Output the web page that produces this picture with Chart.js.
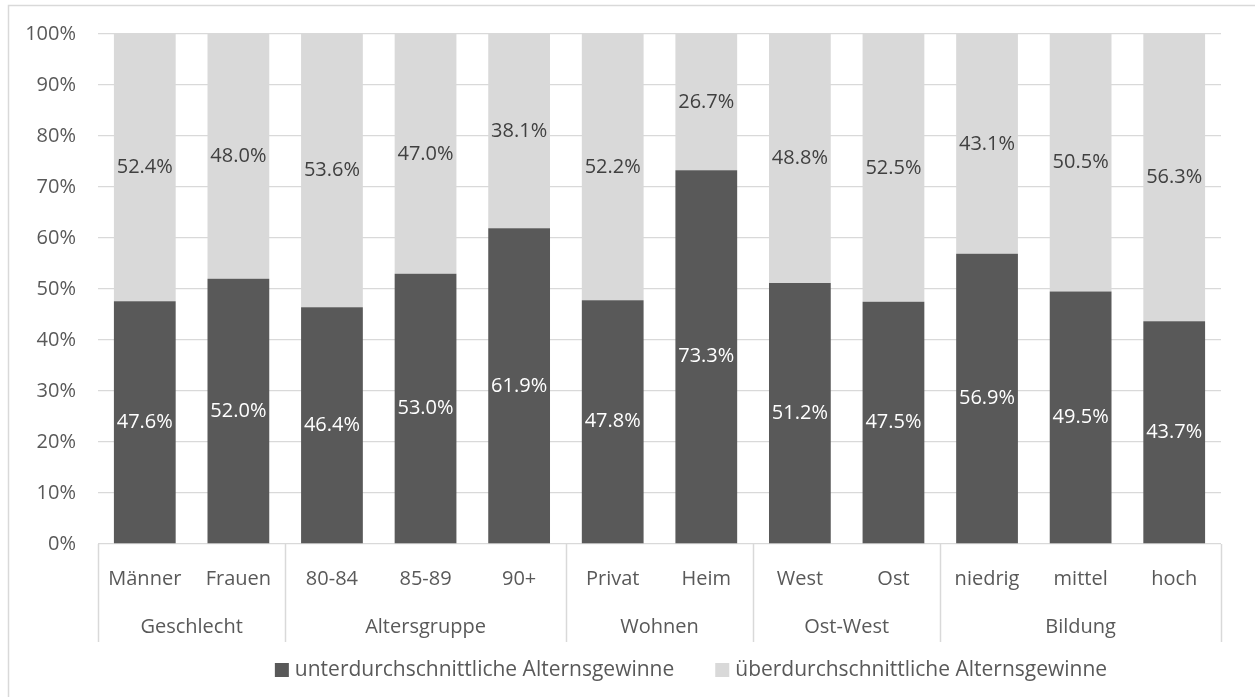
<!DOCTYPE html>
<html>
<head>
<meta charset="utf-8">
<script src="https://cdn.jsdelivr.net/npm/chart.js@4"></script>
<style>
  html, body { margin: 0; padding: 0; background: #fff; }
  #wrap { position: relative; width: 1255px; height: 697px; }
</style>
</head>
<body>
<div id="wrap"><canvas id="chart"></canvas></div>
<script>
// Chart data
const categories = ['Männer', 'Frauen', '80-84', '85-89', '90+', 'Privat', 'Heim', 'West', 'Ost', 'niedrig', 'mittel', 'hoch'];
const groups = ['Geschlecht', 'Altersgruppe', 'Wohnen', 'Ost-West', 'Bildung'];
const groupSizes = [2, 3, 2, 2, 3];
const seriesNames = ['unterdurchschnittliche Alternsgewinne', 'überdurchschnittliche Alternsgewinne'];
const unterValues = [47.6, 52.0, 46.4, 53.0, 61.9, 47.8, 73.3, 51.2, 47.5, 56.9, 49.5, 43.7];
const ueberValues = [52.4, 48.0, 53.6, 47.0, 38.1, 52.2, 26.7, 48.8, 52.5, 43.1, 50.5, 56.3];
const yTicks = [0, 10, 20, 30, 40, 50, 60, 70, 80, 90, 100];

const FONT = "'Open Sans', sans-serif";
const FONT_SIZE = 20;
const axisColor = '#595959';
const lineColor = '#d9d9d9';

// outer frame
const framePlugin = {
    id: 'frame',
    beforeDraw(chart) {
        const ctx = chart.ctx;
        ctx.save();
        ctx.strokeStyle = lineColor;
        ctx.lineWidth = 1.5;
        ctx.strokeRect(8.5, 5.5, chart.width, chart.height);
        ctx.restore();
    }
};

// group labels and separators under the category labels
const groupAxisPlugin = {
    id: 'groupAxis',
    afterDraw(chart) {
        const ctx = chart.ctx;
        const x = chart.scales.x;
        const area = chart.chartArea;
        const bottom = area.bottom + 98;
        const edge = i => {
            if (i <= 0) return area.left;
            if (i >= categories.length) return area.right;
            return (x.getPixelForValue(i - 1) + x.getPixelForValue(i)) / 2;
        };
        ctx.save();
        ctx.strokeStyle = lineColor;
        ctx.lineWidth = 1.5;
        ctx.fillStyle = axisColor;
        ctx.font = FONT_SIZE + 'px ' + FONT;
        ctx.textAlign = 'center';
        ctx.textBaseline = 'middle';
        let start = 0;
        groups.forEach((g, gi) => {
            const end = start + groupSizes[gi];
            const x0 = edge(start), x1 = edge(end);
            ctx.beginPath();
            ctx.moveTo(Math.round(x0) + 0.5, area.bottom);
            ctx.lineTo(Math.round(x0) + 0.5, bottom);
            ctx.stroke();
            if (gi === groups.length - 1) {
                ctx.beginPath();
                ctx.moveTo(Math.round(x1) + 0.5, area.bottom);
                ctx.lineTo(Math.round(x1) + 0.5, bottom);
                ctx.stroke();
            }
            ctx.fillText(g, (x0 + x1) / 2, area.bottom + 83);
            start = end;
        });
        ctx.restore();
    }
};

// value labels in the middle of each segment
const valueLabelPlugin = {
    id: 'valueLabels',
    afterDatasetsDraw(chart) {
        const ctx = chart.ctx;
        ctx.save();
        ctx.font = FONT_SIZE + 'px ' + FONT;
        ctx.textAlign = 'center';
        ctx.textBaseline = 'middle';
        chart.data.datasets.forEach((ds, di) => {
            ctx.fillStyle = di === 0 ? '#ffffff' : '#404040';
            chart.getDatasetMeta(di).data.forEach((bar, i) => {
                const y = (bar.y + bar.base) / 2;
                ctx.fillText(ds.data[i].toFixed(1) + '%', bar.x, y);
            });
        });
        ctx.restore();
    }
};

// legend centred under the plot
const legendPlugin = {
    id: 'customLegend',
    afterDraw(chart) {
        const ctx = chart.ctx;
        ctx.save();
        ctx.font = '21px ' + FONT;
        ctx.textBaseline = 'middle';
        const box = 14, gap = 6, itemGap = 41;
        const items = chart.data.datasets.map(ds => ({
            text: ds.label, color: ds.backgroundColor, w: box + gap + ctx.measureText(ds.label).width
        }));
        const total = items.reduce((s, it) => s + it.w, 0) + itemGap * (items.length - 1);
        let xPos = 691 - total / 2;
        const yPos = 670;
        items.forEach(it => {
            ctx.fillStyle = it.color;
            ctx.fillRect(xPos, yPos - box / 2, box, box);
            ctx.fillStyle = axisColor;
            ctx.fillText(it.text, xPos + box + gap, yPos);
            xPos += it.w + itemGap;
        });
        ctx.restore();
    }
};

const ctx = document.getElementById('chart').getContext('2d');
new Chart(ctx, {
    type: 'bar',
    data: {
        labels: categories,
        datasets: [
            {
                label: seriesNames[0],
                data: unterValues,
                backgroundColor: '#595959',
                barPercentage: 0.66,
                categoryPercentage: 1.0,
            },
            {
                label: seriesNames[1],
                data: ueberValues,
                backgroundColor: '#d9d9d9',
                barPercentage: 0.66,
                categoryPercentage: 1.0,
            }
        ]
    },
    options: {
        responsive: true,
        maintainAspectRatio: false,
        animation: false,
        layout: {
            padding: { top: 33, right: 34, bottom: 55, left: 0 }
        },
        plugins: {
            legend: { display: false },
            tooltip: { enabled: false },
        },
        scales: {
            x: {
                stacked: true,
                grid: { display: false, drawTicks: false },
                border: { display: false },
                ticks: {
                    color: axisColor,
                    font: { family: FONT, size: FONT_SIZE },
                    padding: 23,
                    maxRotation: 0,
                    autoSkip: false,
                },
                afterFit(scale) { scale.height = 98; }
            },
            y: {
                stacked: true,
                min: 0,
                max: 100,
                afterBuildTicks(scale) { scale.ticks = yTicks.map(v => ({ value: v })); },
                grid: { color: lineColor, lineWidth: 1.3, drawTicks: false },
                border: { display: false },
                ticks: {
                    color: axisColor,
                    font: { family: FONT, size: FONT_SIZE },
                    padding: 22,
                    callback: v => v + '%',
                },
                afterFit(scale) { scale.width = 98; }
            }
        }
    },
    plugins: [framePlugin, groupAxisPlugin, valueLabelPlugin, legendPlugin]
});
</script>
</body>
</html>
